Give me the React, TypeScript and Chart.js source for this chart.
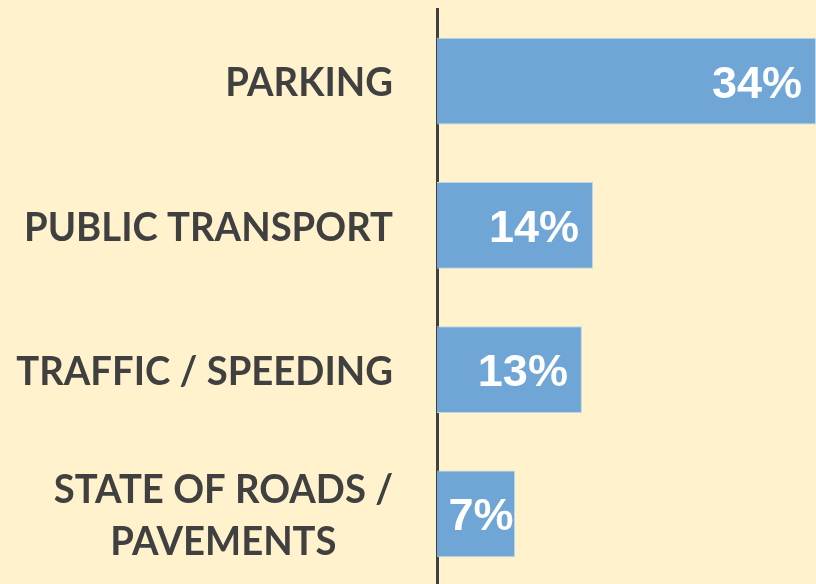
import React, { useEffect, useRef } from "react";
import { Chart, registerables } from "chart.js";

Chart.register(...registerables);

const categories: string[][] = [
  ["PARKING"],
  ["PUBLIC TRANSPORT"],
  ["TRAFFIC / SPEEDING"],
  ["STATE OF ROADS /", "PAVEMENTS"],
];
const values: number[] = [34, 14, 13, 7];
const valueLabels: string[] = ["34%", "14%", "13%", "7%"];

const BG = "#FFF2CC";
const BAR = "#70A6D6";
const BAR_BORDER = "#BDD7EE";
const TEXT = "#404040";
const CAT_FONT = 'bold 41px Lato, "Liberation Sans", sans-serif';
const CAT_REF_TEXT = "PUBLIC TRANSPORT";
const CAT_REF_WIDTH = 369;
const VAL_FONT = 'bold 45px "Liberation Sans", Arial, sans-serif';

const labelPlugin = {
  id: "customLabels",
  afterDatasetsDraw(chart: any) {
    const ctx = chart.ctx as CanvasRenderingContext2D;
    const yScale = chart.scales.y;
    const meta = chart.getDatasetMeta(0);
    const axisX = chart.chartArea.left;
    ctx.save();
    // category labels
    ctx.font = CAT_FONT;
    ctx.fillStyle = TEXT;
    ctx.textBaseline = "middle";
    ctx.textAlign = "center";
    const sx = Math.min(1, CAT_REF_WIDTH / ctx.measureText(CAT_REF_TEXT).width);
    const lineH = 52;
    categories.forEach((lines, i) => {
      const cy = yScale.getPixelForValue(i);
      const widths = lines.map((l) => ctx.measureText(l).width * sx);
      const maxW = Math.max(...widths);
      const right = axisX - 44;
      const cx = right - maxW / 2;
      const startY = cy - ((lines.length - 1) * lineH) / 2;
      lines.forEach((l, j) => {
        ctx.save();
        ctx.translate(cx, startY + j * lineH + 2);
        ctx.scale(sx, 1);
        ctx.fillText(l, 0, 0);
        ctx.restore();
      });
    });
    // value labels
    ctx.font = VAL_FONT;
    ctx.fillStyle = "#FFFFFF";
    ctx.textAlign = "right";
    meta.data.forEach((bar: any, i: number) => {
      const txt = valueLabels[i];
      const w = ctx.measureText(txt).width;
      const barLeft = bar.base;
      const barRight = bar.x;
      let x = barRight - 14;
      if (x - w < barLeft + 10) {
        x = (barLeft + barRight) / 2 + w / 2 + 5;
      }
      ctx.fillText(txt, x, bar.y + 4);
    });
    ctx.restore();
  },
};

const bgPlugin = {
  id: "bg",
  beforeDraw(chart: any) {
    const ctx = chart.ctx as CanvasRenderingContext2D;
    ctx.save();
    ctx.fillStyle = BG;
    ctx.fillRect(0, 0, chart.width, chart.height);
    ctx.restore();
  },
};

export default function App() {
  const ref = useRef<HTMLCanvasElement | null>(null);
  useEffect(() => {
    if (!ref.current) return;
    const chart = new Chart(ref.current, {
      type: "bar",
      data: {
        labels: categories.map((c) => c.join(" ")),
        datasets: [
          {
            data: values,
            backgroundColor: BAR,
            borderColor: BAR_BORDER,
            borderWidth: 1,
            categoryPercentage: 1,
            barPercentage: 0.6,
          },
        ],
      },
      options: {
        indexAxis: "y",
        responsive: false,
        animation: false,
        layout: { padding: { top: 9, bottom: 14, left: 0, right: 0 } },
        plugins: {
          legend: { display: false },
          tooltip: { enabled: false },
        },
        scales: {
          x: {
            display: false,
            min: 0,
            max: 34,
          },
          y: {
            type: "category",
            grid: { display: false, drawTicks: false },
            ticks: { display: false },
            border: { display: true, color: TEXT, width: 3 },
            afterFit: (scale: any) => {
              scale.width = 437;
            },
          },
        },
      },
      plugins: [bgPlugin, labelPlugin],
    });
    return () => chart.destroy();
  }, []);
  return (
    <div
      style={{
        position: "absolute",
        left: 0,
        top: 0,
        width: 816,
        height: 584,
        overflow: "hidden",
        background: BG,
      }}
    >
      <canvas ref={ref} width={816} height={600} style={{ display: "block" }} />
    </div>
  );
}
